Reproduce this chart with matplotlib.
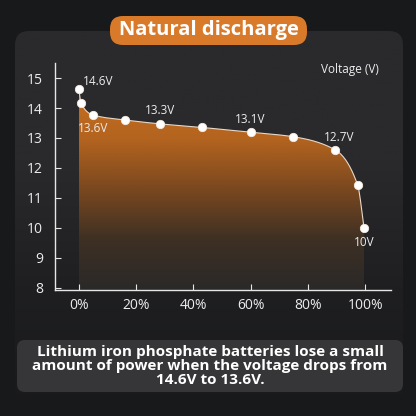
import numpy as np
import matplotlib
matplotlib.use("Agg")
import matplotlib.pyplot as plt
from matplotlib.patches import FancyBboxPatch, Polygon
from matplotlib.colors import LinearSegmentedColormap

# ---- data -----------------------------------------------------------------
capacity = [0, 0.8, 4.9, 16.2, 28.3, 43, 60, 74.9, 89.4, 97.4, 99.6]
voltage = [14.64, 14.16, 13.77, 13.6, 13.47, 13.35, 13.19, 13.04, 12.61, 11.42, 10.0]
x_ticks = [0, 20, 40, 60, 80, 100]
x_tick_labels = ["0%", "20%", "40%", "60%", "80%", "100%"]
y_ticks = [8, 9, 10, 11, 12, 13, 14, 15]
label_idx = [0, 2, 4, 6, 8, 10]
label_text = ["14.6V", "13.6V", "13.3V", "13.1V", "12.7V", "10V"]
label_off = [(4, -7), (0, 14), (0, -13), (0, -13), (4, -12), (0, 15)]  # pixels, +y down
label_ha = ["left", "center", "center", "center", "center", "center"]

TITLE = "Natural discharge"
NOTE = ("Lithium iron phosphate batteries lose a small\n"
        "amount of power when the voltage drops from\n"
        "14.6V to 13.6V.")

# ---- palette --------------------------------------------------------------
BG = "#18191b"
CARD_TOP = "#2a2a2d"
CARD_BOT = "#1f1f21"
ORANGE = "#d97a2b"
INK = "#ececec"
FONT = ["Open Sans", "DejaVu Sans"]

plt.rcParams["font.family"] = FONT


def pchip(x, y, xs):
    x = np.asarray(x, float)
    y = np.asarray(y, float)
    h = np.diff(x)
    d = np.diff(y) / h
    m = np.zeros_like(y)
    for k in range(1, len(x) - 1):
        if d[k - 1] * d[k] > 0:
            w1 = 2 * h[k] + h[k - 1]
            w2 = h[k] + 2 * h[k - 1]
            m[k] = (w1 + w2) / (w1 / d[k - 1] + w2 / d[k])
    m[0] = d[0]
    m[-1] = d[-1]
    out = np.empty_like(xs)
    for i, xv in enumerate(xs):
        k = min(max(np.searchsorted(x, xv) - 1, 0), len(x) - 2)
        t = (xv - x[k]) / h[k]
        h00 = 2 * t**3 - 3 * t**2 + 1
        h10 = t**3 - 2 * t**2 + t
        h01 = -2 * t**3 + 3 * t**2
        h11 = t**3 - t**2
        out[i] = h00 * y[k] + h10 * h[k] * m[k] + h01 * y[k + 1] + h11 * h[k] * m[k + 1]
    return out


fig = plt.figure(figsize=(4.16, 4.16), dpi=100)
fig.patch.set_facecolor(BG)

# background layer in pixel coords
bg = fig.add_axes([0, 0, 1, 1])
bg.set_xlim(0, 416)
bg.set_ylim(416, 0)
bg.axis("off")

card = FancyBboxPatch((15, 31), 388, 420, boxstyle="round,pad=0,rounding_size=14",
                      facecolor="none", edgecolor="none")
bg.add_patch(card)
grad = np.linspace(0, 1, 256).reshape(-1, 1)
card_cmap = LinearSegmentedColormap.from_list("card", [CARD_TOP, CARD_TOP, CARD_BOT, BG])
im = bg.imshow(grad, extent=(15, 403, 416, 31), cmap=card_cmap, aspect="auto", zorder=1)
im.set_clip_path(card)

pill = FancyBboxPatch((110, 16), 197, 29, boxstyle="round,pad=0,rounding_size=13",
                      facecolor=ORANGE, edgecolor="none", zorder=3)
bg.add_patch(pill)
bg.text(208.5, 30.5, TITLE, ha="center", va="center", color="white",
        fontsize=14.5, fontweight="bold", zorder=4)

note_box = FancyBboxPatch((17, 340), 386, 52, boxstyle="round,pad=0,rounding_size=8",
                          facecolor="#3a3a3c", edgecolor="none", alpha=0.9, zorder=3)
bg.add_patch(note_box)
bg.text(210, 366, NOTE, ha="center", va="center", color="white", fontsize=11,
        fontweight="bold", linespacing=1.0, zorder=4)

# ---- chart ----------------------------------------------------------------
ax = fig.add_axes([0.133, 0.303, 0.806, 0.546])
ax.patch.set_alpha(0)
ax.set_xlim(-8.2, 108.9)
ax.set_ylim(7.92, 15.51)

xs = np.linspace(capacity[0], capacity[-1], 400)
ys = pchip(capacity, voltage, xs)

poly_pts = np.vstack([np.array([[capacity[0], 7.92]]),
                      np.column_stack([xs, ys]),
                      np.array([[capacity[-1], 7.92]])])
fill_poly = Polygon(poly_pts, closed=True, facecolor="none", edgecolor="none")
ax.add_patch(fill_poly)
fill_cmap = LinearSegmentedColormap.from_list(
    "fill", ["#2a2928", "#3e3024", "#7a481f", "#b4641f", "#c66e20"])
gim = ax.imshow(np.linspace(0, 1, 256).reshape(-1, 1), cmap=fill_cmap, origin="lower",
                extent=(capacity[0], capacity[-1], 7.92, max(voltage)), aspect="auto", zorder=1)
gim.set_clip_path(fill_poly)

ax.plot(xs, ys, color="#e8d8c8", lw=0.8, zorder=2)
ax.plot(capacity, voltage, "o", color="white", ms=6, mec="#f6ebe0", mew=0.6, zorder=3)

for i, txt, off, ha in zip(label_idx, label_text, label_off, label_ha):
    ax.annotate(txt, (capacity[i], voltage[i]), xytext=(off[0], -off[1]),
                textcoords="offset pixels", ha=ha, va="center", color=INK,
                fontsize=8.5, zorder=4)

ax.text(94.7, 15.3, "Voltage (V)", ha="center", va="center", color=INK, fontsize=8.5)

for s in ["top", "right"]:
    ax.spines[s].set_visible(False)
for s in ["left", "bottom"]:
    ax.spines[s].set_color("#e6e6e6")
    ax.spines[s].set_linewidth(1.0)
ax.set_xticks(x_ticks)
ax.set_xticklabels(x_tick_labels)
ax.set_yticks(y_ticks)
ax.tick_params(direction="in", length=4, width=0.8, colors="#e6e6e6",
               labelcolor=INK, labelsize=10)
ax.tick_params(axis="y", pad=9)
ax.tick_params(axis="x", pad=6)

fig.savefig("out.png", dpi=100, facecolor=BG)
